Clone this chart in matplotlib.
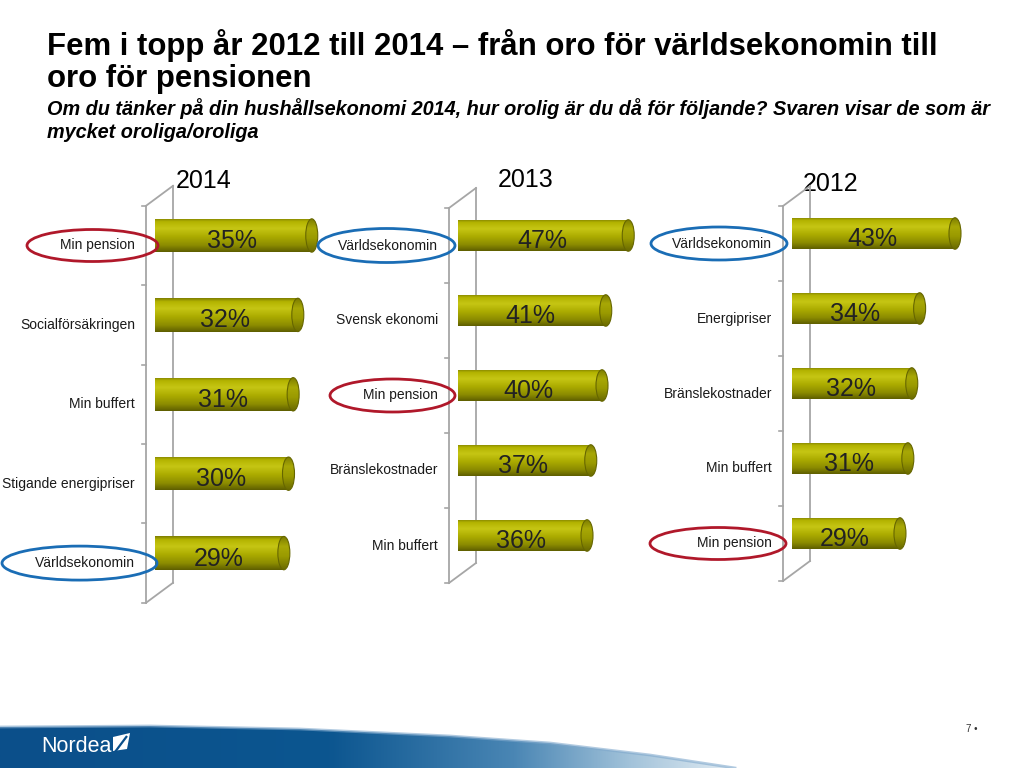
import numpy as np
import matplotlib
matplotlib.use('Agg')
import matplotlib.pyplot as plt
from matplotlib.patches import Ellipse, Polygon
from matplotlib.colors import LinearSegmentedColormap
import matplotlib.transforms as mtrans

plt.rcParams['font.family'] = ['Liberation Sans', 'DejaVu Sans']

# ---------------- data ----------------
title_lines = ["Fem i topp år 2012 till 2014 – från oro för världsekonomin till",
               "oro för pensionen"]
subtitle_lines = ["Om du tänker på din hushållsekonomi 2014, hur orolig är du då för följande? Svaren visar de som är",
                  "mycket oroliga/oroliga"]

years = ["2014", "2013", "2012"]
cats_2014 = ["Min pension", "Socialförsäkringen", "Min buffert", "Stigande energipriser", "Världsekonomin"]
vals_2014 = [35, 32, 31, 30, 29]
cats_2013 = ["Världsekonomin", "Svensk ekonomi", "Min pension", "Bränslekostnader", "Min buffert"]
vals_2013 = [47, 41, 40, 37, 36]
cats_2012 = ["Världsekonomin", "Energipriser", "Bränslekostnader", "Min buffert", "Min pension"]
vals_2012 = [43, 34, 32, 31, 29]

page_number = "7 •"
brand = "Nordea"

# ---------------- style / layout ----------------
W, H, DPI = 1024, 768, 100
RED = '#b0182a'
BLUE = '#1a6db5'
FRAME = '#a6a6a6'

# x0 of bar, first bar centre y, category spacing, px per percent
layout = {
    "2014": dict(x0=155, y0=235.5, sp=79.4, scale=4.65, year_xy=(204, 181)),
    "2013": dict(x0=458, y0=235.5, sp=75.0, scale=3.75, year_xy=(526, 180)),
    "2012": dict(x0=792, y0=233.5, sp=75.0, scale=3.93, year_xy=(831, 184)),
}
# highlighted label ellipses: (category index, colour, width px, right offset px, height px)
highlights = {
    "2014": [(0, RED, 131, 3, 32), (4, BLUE, 155, 2, 34)],
    "2013": [(0, BLUE, 137, -3, 34), (2, RED, 125, -3, 33)],
    "2012": [(0, BLUE, 136, -5, 33), (4, RED, 136, -6, 32)],
}
panel_data = {"2014": (cats_2014, vals_2014),
              "2013": (cats_2013, vals_2013),
              "2012": (cats_2012, vals_2012)}

body_cmap = LinearSegmentedColormap.from_list('body', [
    (0.0, '#7d7d00'), (0.10, '#b3b300'), (0.30, '#c6c614'),
    (0.55, '#abab00'), (0.80, '#8c8c00'), (1.0, '#5e5e00')])
cap_cmap = LinearSegmentedColormap.from_list('cap', [
    (0.0, '#7a7a00'), (0.3, '#a8a806'), (0.6, '#9a9a00'), (1.0, '#6a6a00')])

fig = plt.figure(figsize=(W / DPI, H / DPI), dpi=DPI)
fig.patch.set_facecolor('white')

bg = fig.add_axes([0, 0, 1, 1], zorder=0)
bg.set_xlim(0, W)
bg.set_ylim(H, 0)
bg.set_axis_off()

# titles
for k, line in enumerate(title_lines):
    bg.text(47, 55 + 32 * k, line, fontsize=22.4, fontweight='bold', color='black',
            ha='left', va='baseline')
for k, line in enumerate(subtitle_lines):
    bg.text(47, 115 + 23 * k, line, fontsize=14.3, fontweight='bold', fontstyle='italic',
            color='black', ha='left', va='baseline')

# footer swoosh
top_edge = [(0, 727), (150, 726), (300, 729), (450, 736), (550, 743), (650, 755), (735, 768)]
poly = Polygon(top_edge + [(0, 768)], closed=True, facecolor='none', edgecolor='none')
bg.add_patch(poly)
foot_cmap = LinearSegmentedColormap.from_list('foot', [
    (0.0, '#0b4f8a'), (0.45, '#0c5690'), (0.7, '#4a86b4'), (0.86, '#a3c3da'), (1.0, '#e2ecf3')])
grad = np.linspace(0, 1, 256)[None, :]
im = bg.imshow(grad, extent=[0, 735, 768, 724], cmap=foot_cmap, aspect='auto', zorder=1)
im.set_clip_path(poly)
bg.plot([p[0] for p in top_edge], [p[1] for p in top_edge], color='#7fa8cc', lw=2, alpha=0.6, zorder=2)
bg.text(41, 747, brand, fontsize=15.5, color='white', ha='left', va='center', zorder=3)
bg.add_patch(Polygon([(113, 737), (130, 733), (127, 749), (113, 751)], closed=True,
                     facecolor='white', edgecolor='none', zorder=3))
bg.plot([115, 127], [752, 736], color='#0b4f8a', lw=1.6, zorder=4, solid_capstyle='butt')
bg.text(966, 729, page_number, fontsize=7, color='#333333', ha='left', va='center')
bg.set_xlim(0, W)
bg.set_ylim(H, 0)

px = 1.0 / DPI
for yr in years:
    L = layout[yr]
    cats, vals = panel_data[yr]
    n = len(cats)
    xmax = 50
    top = L['y0'] - 0.5 * L['sp']
    hgt = n * L['sp']
    ax = fig.add_axes([L['x0'] / W, 1 - (top + hgt) / H, xmax * L['scale'] / W, hgt / H], zorder=2)
    ax.set_facecolor('none')
    ax.set_axis_off()

    capw = 12 / L['scale']
    bh = 0.42
    ygrad = np.linspace(0, 1, 128)[:, None]
    for i, v in enumerate(vals):
        body_end = v - capw / 2
        bars = ax.barh(i, body_end, height=bh, left=0, color='none', edgecolor='none', zorder=2)
        rect = bars.patches[0]
        imb = ax.imshow(ygrad, extent=[0, body_end, i + bh / 2, i - bh / 2], cmap=body_cmap,
                        aspect='auto', zorder=2, interpolation='bilinear')
        imb.set_clip_path(rect)
        cap = Ellipse((body_end, i), capw, bh, facecolor='none', edgecolor='#666600', lw=0.8, zorder=4)
        ax.add_patch(cap)
        imc = ax.imshow(ygrad, extent=[body_end - capw / 2, body_end + capw / 2, i + bh / 2, i - bh / 2],
                        cmap=cap_cmap, aspect='auto', zorder=3, interpolation='bilinear')
        imc.set_clip_path(cap)
        ax.annotate(f"{v}%", xy=(v / 2, i), xytext=(-3, -4), textcoords='offset points',
                    ha='center', va='center', fontsize=18, color='#222222', zorder=5)

    ax.set_xlim(0, xmax)
    ax.set_ylim(n - 0.5, -0.5)

    front = ax.transData + mtrans.ScaledTranslation(-9 * px, -10 * px, fig.dpi_scale_trans)
    back = ax.transData + mtrans.ScaledTranslation(18 * px, 10 * px, fig.dpi_scale_trans)
    ax.plot([0, 0], [-0.5, n - 0.5], color=FRAME, lw=1.3, transform=front, clip_on=False, zorder=1)
    ax.plot([0, 0], [-0.5, n - 0.5], color=FRAME, lw=1.3, transform=back, clip_on=False, zorder=1)
    for yb in (-0.5, n - 0.5):
        t = fig.dpi_scale_trans + mtrans.ScaledTranslation(0, yb, ax.transData)
        ax.plot([-9 * px, 18 * px], [-10 * px, 10 * px], color=FRAME, lw=1.3, transform=t,
                clip_on=False, zorder=1)
    for b in np.arange(-0.5, n, 1.0):
        t = fig.dpi_scale_trans + mtrans.ScaledTranslation(0, b, ax.transData)
        ax.plot([-13 * px, -9 * px], [-10 * px, -10 * px], color=FRAME, lw=1.2, transform=t,
                clip_on=False, zorder=1)

    lab_t = ax.transData + mtrans.ScaledTranslation(-20 * px, -10 * px, fig.dpi_scale_trans)
    for i, c in enumerate(cats):
        ax.text(0, i, c, transform=lab_t, ha='right', va='center', fontsize=10,
                color='#1a1a1a', clip_on=False, zorder=6)

    for (idx, col, w, roff, eh) in highlights[yr]:
        t = fig.dpi_scale_trans + mtrans.ScaledTranslation(0, idx, ax.transData)
        e = Ellipse(((roff - w / 2) * px, -10 * px), w * px, eh * px, transform=t,
                    facecolor='none', edgecolor=col, lw=2.0, clip_on=False, zorder=7)
        ax.add_patch(e)

    bg.text(L['year_xy'][0], L['year_xy'][1], yr, fontsize=18, color='black',
            ha='center', va='center')

fig.savefig('out.png', dpi=DPI)
